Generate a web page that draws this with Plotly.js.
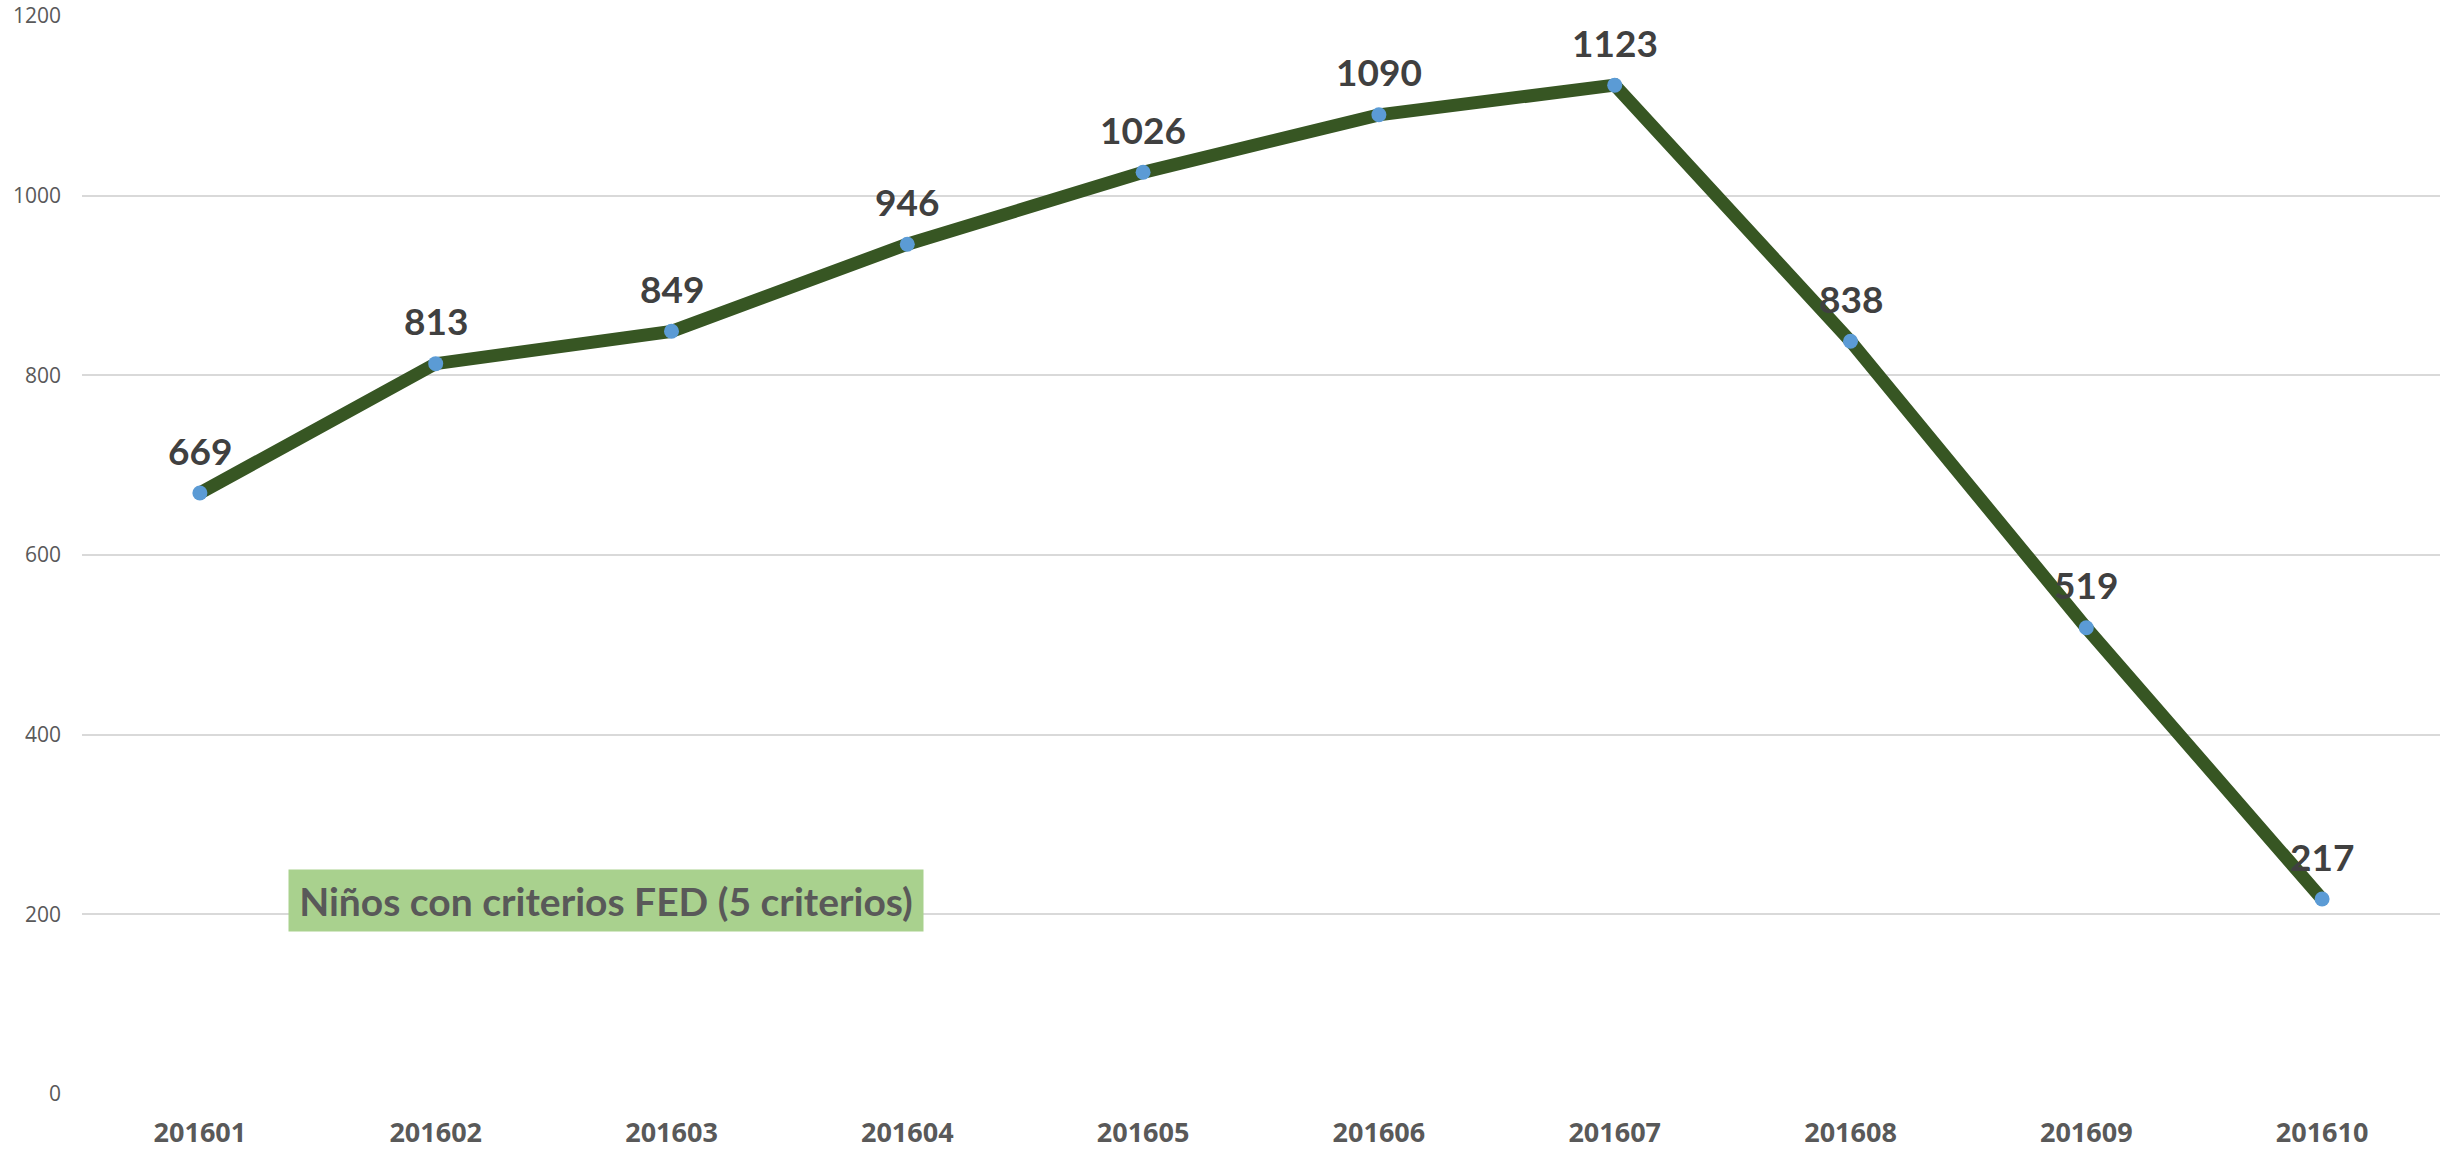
<!DOCTYPE html>
<html>
<head>
<meta charset="utf-8">
<script src="https://cdn.plot.ly/plotly-3.0.1.min.js"></script>
<style>html,body{margin:0;padding:0;background:#fff;}#chart{width:2450px;height:1151px;}</style>
</head>
<body>
<div id="chart"></div>
<script>
const categories = ["201601","201602","201603","201604","201605","201606","201607","201608","201609","201610"];
const values = [669, 813, 849, 946, 1026, 1090, 1123, 838, 519, 217];
const yTicks = [0, 200, 400, 600, 800, 1000, 1200];
const seriesLabel = "Niños con criterios FED (5 criterios)";

const trace = {
  x: categories,
  y: values,
  type: "scatter",
  mode: "lines+markers",
  line: {color: "#375623", width: 13},
  marker: {color: "#5B9BD5", size: 15},
  cliponaxis: false,
  hoverinfo: "none"
};

// category axis: annotations positioned by category index
const labelAnnotations = categories.map((c, i) => ({
  x: i, y: values[i], xref: "x", yref: "y",
  text: "<b>" + values[i] + "</b>",
  showarrow: false,
  xanchor: "center", yanchor: "middle",
  yshift: 43,
  font: {family: "Lato, 'Open Sans', sans-serif", size: 37, color: "#404040"}
}));

const layout = {
  width: 2450, height: 1151,
  margin: {l: 82, r: 10, t: 16, b: 57},
  paper_bgcolor: "#ffffff",
  plot_bgcolor: "#ffffff",
  showlegend: false,
  xaxis: {
    type: "category",
    range: [-0.5, categories.length - 0.5],
    showgrid: false, zeroline: false, showline: false,
    ticks: "",
    tickfont: {family: "'Open Sans', sans-serif", size: 27, color: "#595959", weight: 700},
    ticklabelstandoff: 20
  },
  yaxis: {
    range: [0, 1200],
    tickvals: yTicks,
    ticktext: yTicks.map(String),
    showgrid: true, gridcolor: "#D9D9D9", gridwidth: 2,
    zeroline: false, showline: false, ticks: "",
    tickfont: {family: "'Open Sans', sans-serif", size: 21, color: "#595959"},
    ticklabelstandoff: 20
  },
  annotations: labelAnnotations.concat([{
    text: "<b>" + seriesLabel + "</b>",
    xref: "paper", yref: "paper",
    x: 0.2222, y: 0.1795,
    xanchor: "center", yanchor: "middle",
    showarrow: false,
    bgcolor: "#A9D18E",
    width: 628, height: 55,
    borderpad: 3,
    font: {family: "Lato, 'Open Sans', sans-serif", size: 39, color: "#595959"}
  }])
};

Plotly.newPlot("chart", [trace], layout, {displayModeBar: false, staticPlot: true});
</script>
</body>
</html>
